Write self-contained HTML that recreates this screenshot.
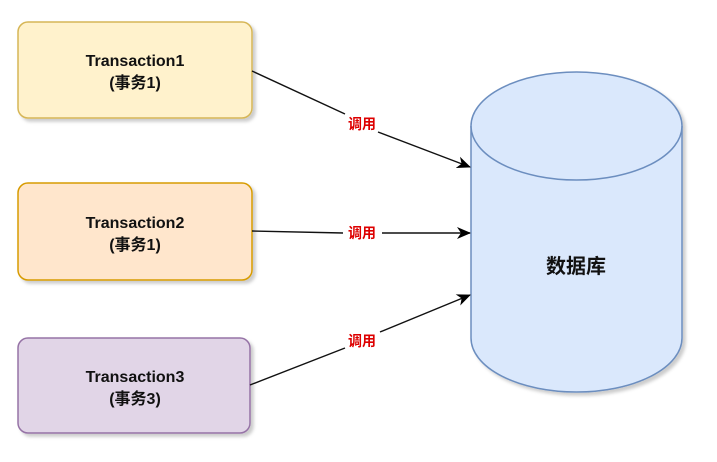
<!DOCTYPE html>
<html><head><meta charset="utf-8"><style>
body{margin:0;background:#fff;}
svg text{font-family:"Liberation Sans","Noto Sans CJK SC",sans-serif;}
</style></head><body>
<svg width="717" height="457" viewBox="0 0 717 457" xmlns="http://www.w3.org/2000/svg">
<defs>
<filter id="sh" x="-10%" y="-10%" width="130%" height="130%"><feDropShadow dx="3" dy="3" stdDeviation="1.5" flood-color="#000" flood-opacity="0.2"/></filter>
<marker id="ar" markerWidth="14" markerHeight="14" refX="13" refY="7" orient="auto" markerUnits="userSpaceOnUse"><path d="M0,1 L14,7 L0,13 L4,7 z" fill="#000"/></marker>
</defs>
<rect x="18" y="22" width="234" height="96" rx="10" fill="#fff2cc" stroke="#d6b656" stroke-width="1.5" filter="url(#sh)"/>
<rect x="18" y="183" width="234" height="97" rx="10" fill="#ffe6cc" stroke="#d79b00" stroke-width="1.5" filter="url(#sh)"/>
<rect x="18" y="338" width="232" height="95" rx="10" fill="#e1d5e7" stroke="#9673a6" stroke-width="1.5" filter="url(#sh)"/>
<g font-size="16" font-weight="bold" fill="#111" text-anchor="middle">
<text x="135" y="66">Transaction1</text><text x="135" y="88">(事务1)</text>
<text x="135" y="228">Transaction2</text><text x="135" y="250">(事务1)</text>
<text x="135" y="382">Transaction3</text><text x="135" y="404">(事务3)</text>
</g>
<path d="M471,126 L471,338 A105.5,54 0 0 0 682,338 L682,126 A105.5,54 0 0 0 471,126 Z" fill="#dae8fc" stroke="#6c8ebf" stroke-width="1.5" filter="url(#sh)"/>
<path d="M471,126 A105.5,54 0 0 0 682,126" fill="none" stroke="#6c8ebf" stroke-width="1.5"/>
<text x="576" y="273" font-size="20" font-weight="bold" fill="#111" text-anchor="middle">数据库</text>
<g stroke="#111" stroke-width="1.4" fill="none">
<path d="M252,71 L345,114"/>
<path d="M378,132 L470,167" marker-end="url(#ar)"/>
<path d="M252,231 L343,233"/>
<path d="M382,233 L470,233" marker-end="url(#ar)"/>
<path d="M250,385 L345,348"/>
<path d="M380,332 L470,295" marker-end="url(#ar)"/>
</g>
<g font-size="14" font-weight="bold" fill="#d00" text-anchor="middle">
<text x="362" y="129">调用</text>
<text x="362" y="238">调用</text>
<text x="362" y="346">调用</text>
</g>
</svg>
</body></html>
